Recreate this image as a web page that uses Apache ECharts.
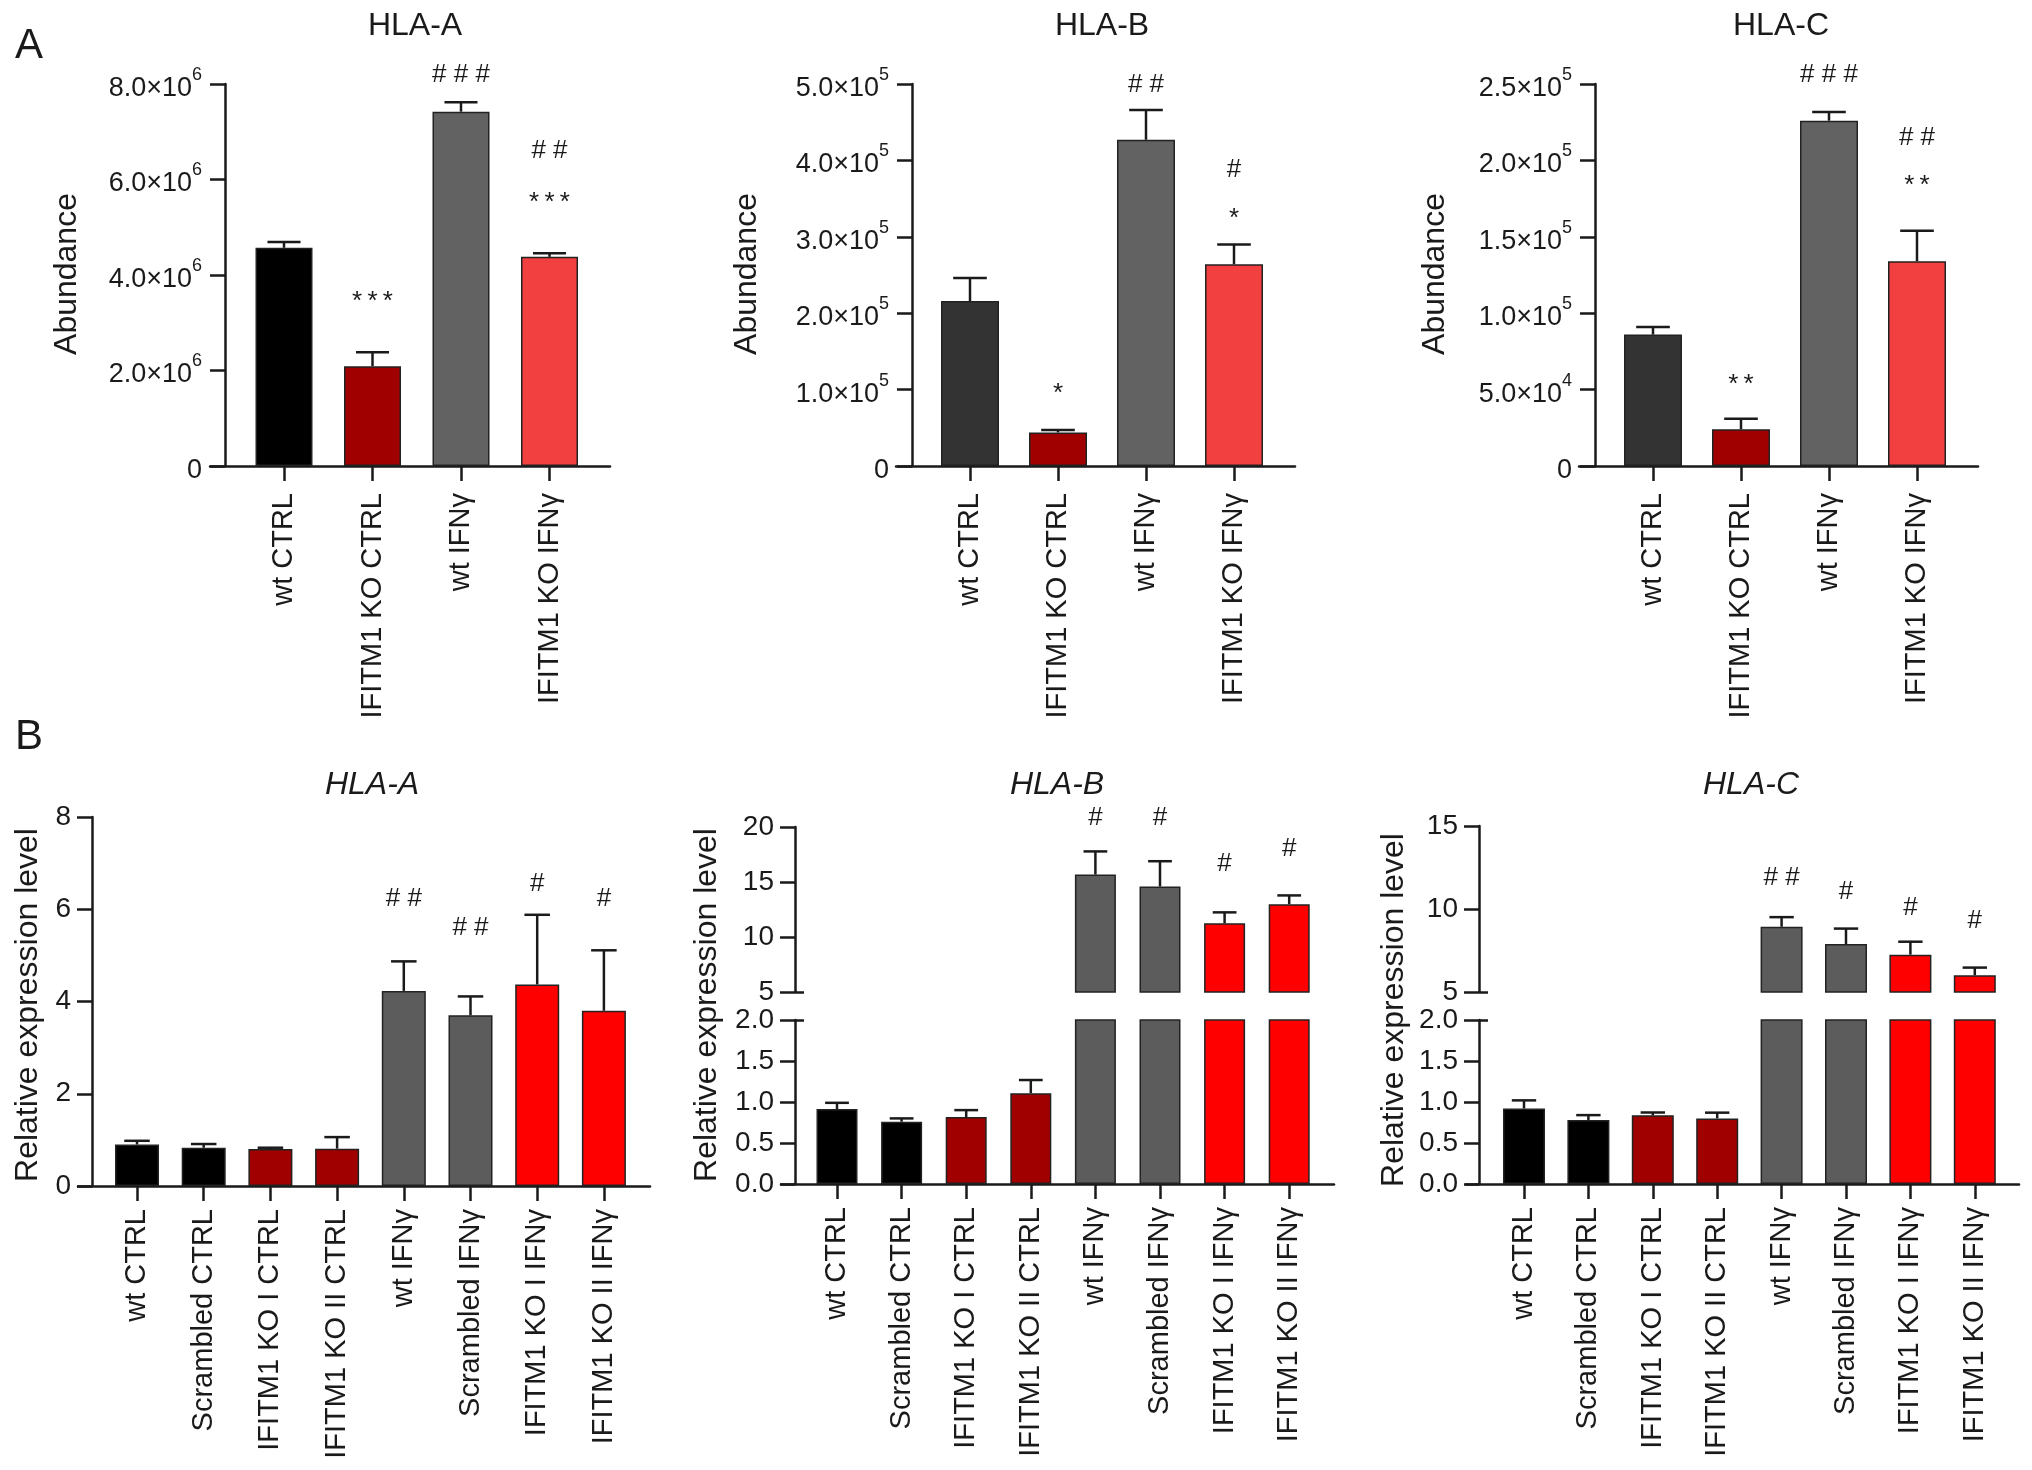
<!DOCTYPE html>
<html><head><meta charset="utf-8">
<script src="https://cdn.jsdelivr.net/npm/echarts@6/dist/echarts.min.js"></script>
<style>html,body{margin:0;padding:0;background:#fff}#c{width:2032px;height:1470px}</style>
</head><body><div id="c"></div>
<script>
// ---------------- DATA ----------------
const catsProt = ['wt CTRL', 'IFITM1 KO CTRL', 'wt IFNγ', 'IFITM1 KO IFNγ'];
const catsMrna = ['wt CTRL', 'Scrambled CTRL', 'IFITM1 KO I CTRL', 'IFITM1 KO II CTRL',
                  'wt IFNγ', 'Scrambled IFNγ', 'IFITM1 KO I IFNγ', 'IFITM1 KO II IFNγ'];

// Panel A: protein abundance (mean, SEM)
const protA_mean = [4.57e6, 2.09e6, 7.42e6, 4.38e6];
const protA_err  = [0.12e6, 0.29e6, 0.20e6, 0.075e6];
const protB_mean = [2.16e5, 0.44e5, 4.27e5, 2.64e5];
const protB_err  = [0.30e5, 0.03e5, 0.39e5, 0.26e5];
const protC_mean = [0.86e5, 0.24e5, 2.26e5, 1.34e5];
const protC_err  = [0.05e5, 0.07e5, 0.057e5, 0.20e5];

// Panel B: relative expression (mean, SEM)
const mrnaA_mean = [0.90, 0.83, 0.80, 0.81, 4.23, 3.70, 4.37, 3.80];
const mrnaA_err  = [0.08, 0.08, 0.03, 0.25, 0.64, 0.41, 1.51, 1.31];
const mrnaB_mean = [0.915, 0.76, 0.816, 1.108, 15.68, 14.59, 11.24, 12.98];
const mrnaB_err  = [0.075, 0.04, 0.085, 0.16, 2.1, 2.3, 1.0, 0.8];
const mrnaC_mean = [0.92, 0.78, 0.837, 0.80, 8.93, 7.89, 7.25, 6.01];
const mrnaC_err  = [0.10, 0.06, 0.035, 0.07, 0.58, 0.93, 0.78, 0.46];

// Y tick values
const protA_ticks = [0, 2e6, 4e6, 6e6, 8e6];
const protB_ticks = [0, 1e5, 2e5, 3e5, 4e5, 5e5];
const protC_ticks = [0, 5e4, 1e5, 1.5e5, 2e5, 2.5e5];
const mrnaA_ticks = [0, 2, 4, 6, 8];
const mrnaLow_ticks = [0, 0.5, 1.0, 1.5, 2.0];
const mrnaB_high_ticks = [5, 10, 15, 20];
const mrnaC_high_ticks = [5, 10, 15];

// Significance marks and the axis value at which each mark is printed
const protA_hash = ['', '', '###', '##'];   const protA_hashY = [null, null, 8.19e6, 6.59e6];
const protA_star = ['', '***', '', '***'];  const protA_starY = [null, 3.56e6, null, 5.64e6];
const protB_hash = ['', '', '##', '#'];     const protB_hashY = [null, null, 4.99e5, 3.88e5];
const protB_star = ['', '*', '', '*'];      const protB_starY = [null, 1.02e5, null, 3.32e5];
const protC_hash = ['', '', '###', '##'];   const protC_hashY = [null, null, 2.56e5, 2.15e5];
const protC_star = ['', '**', '', '**'];    const protC_starY = [null, 0.57e5, null, 1.87e5];
const mrnaA_hash = ['', '', '', '', '##', '##', '#', '#'];
const mrnaA_hashY = [null, null, null, null, 6.22, 5.60, 6.55, 6.22];
const mrnaB_hash = ['', '', '', '', '#', '#', '#', '#'];
const mrnaB_hashY = [null, null, null, null, 20.83, 20.83, 16.69, 18.0];
const mrnaC_hash = ['', '', '', '', '##', '#', '#', '#'];
const mrnaC_hashY = [null, null, null, null, 11.88, 11.01, 10.06, 9.28];

// ---------------- STYLE ----------------
const FONT = '"Liberation Sans", Arial, Helvetica, sans-serif';
const INK = '#1a1a1a';
const LW = 2.5;
const colProtA = ['#000000', '#a10000', '#626262', '#f24040'];
const colProtBC = ['#333333', '#a10000', '#626262', '#f24040'];
const colMrna = ['#000000', '#000000', '#a10000', '#a10000', '#5c5c5c', '#5c5c5c', '#ff0000', '#ff0000'];

const RICH = {
  m: {fontSize: 27, fontFamily: FONT, color: INK, lineHeight: 36, verticalAlign: 'bottom'},
  s: {fontSize: 18, fontFamily: FONT, color: INK, lineHeight: 18, verticalAlign: 'top'}
};
function sciLabel(v) {
  if (v === 0) return '{m|0}';
  const e = Math.floor(Math.log10(v) + 1e-9);
  const m = (v / Math.pow(10, e)).toFixed(1);
  return '{m|' + m + '×10}{s|' + e + '}';
}
const fmtInt = v => '{m|' + Math.round(v) + '}';
const fmt1 = v => '{m|' + v.toFixed(1) + '}';
const RICH_B = {m: {fontSize: 28, fontFamily: FONT, color: INK}};

const option = {backgroundColor: '#ffffff', animation: false, grid: [], xAxis: [], yAxis: [], series: [], graphic: []};

function addPanel(P) {
  const xMin = (P.left - P.c0) / P.pitch, xMax = (P.right - P.c0) / P.pitch;
  const idx = P.cats.map((_, i) => i);
  let lastGi = 0, lastYi = 0;
  P.segs.forEach(S => {
    const gi = option.grid.length;
    option.grid.push({left: P.left, top: S.top, width: P.right - P.left, height: S.bottom - S.top});
    option.xAxis.push({
      gridIndex: gi, type: 'value', min: xMin, max: xMax, show: S.showX, position: 'bottom',
      axisLine: {show: true, onZero: false, lineStyle: {color: INK, width: LW}},
      axisTick: {show: true, customValues: idx, length: 15, lineStyle: {color: INK, width: LW}},
      axisLabel: {show: true, customValues: idx, formatter: v => P.cats[Math.round(v)], rotate: 90,
                  margin: P.xMargin, fontSize: 29, fontFamily: FONT, color: INK},
      splitLine: {show: false}
    });
    const t = S.ticks;
    const yi = option.yAxis.length;
    option.yAxis.push({
      gridIndex: gi, type: 'value', position: 'left', min: t[0], max: t[t.length - 1], interval: t[1] - t[0],
      offset: P.left - P.axisX,
      axisLine: {show: true, onZero: false, lineStyle: {color: INK, width: LW}},
      axisTick: {show: true, length: 15, lineStyle: {color: INK, width: LW}},
      axisLabel: {formatter: S.fmt, margin: P.yMargin, rich: S.rich},
      splitLine: {show: false}
    });
    if (S.breakTick != null) {
      option.yAxis.push({
        gridIndex: gi, type: 'value', position: 'left', min: t[0], max: t[t.length - 1], interval: t[1] - t[0],
        offset: P.left - P.axisX,
        axisLine: {show: false, onZero: false},
        axisTick: {show: true, inside: true, length: 9, customValues: [S.breakTick], lineStyle: {color: INK, width: LW}},
        axisLabel: {show: false}, splitLine: {show: false}
      });
    }
    const lo = t[0], hi = t[t.length - 1];
    option.series.push({
      type: 'bar', xAxisIndex: gi, yAxisIndex: yi, barWidth: P.barW, clip: true, z: 2,
      itemStyle: {borderColor: '#222', borderWidth: 1.5},
      data: P.mean.map((v, i) => ({value: [i, v], itemStyle: {color: P.colors[i]}}))
    });
    option.series.push({
      type: 'custom', xAxisIndex: gi, yAxisIndex: yi, clip: false, z: 3,
      data: P.mean.map((v, i) => [i, v, P.err[i]]),
      renderItem: (params, api) => {
        const x = api.value(0), v = api.value(1), e = api.value(2);
        if (v < lo - 1e-9 || v + e > hi + 1e-9) return null;
        const a = api.coord([x, v]), b = api.coord([x, v + e]);
        const h = P.barW * 0.29;
        return {type: 'group', children: [
          {type: 'line', shape: {x1: a[0], y1: a[1], x2: b[0], y2: b[1]}, style: {stroke: INK, lineWidth: LW}},
          {type: 'line', shape: {x1: b[0] - h, y1: b[1], x2: b[0] + h, y2: b[1]}, style: {stroke: INK, lineWidth: LW}}
        ]};
      }
    });
    lastGi = gi; lastYi = yi;
  });
  P.marks.forEach(M => {
    const items = [];
    M.text.forEach((s, i) => { if (s && M.y[i] != null) items.push([i, M.y[i], i]); });
    const isStar = M.text.some(s => s.indexOf('*') >= 0);
    const fs = 26;
    option.series.push({
      type: 'custom', xAxisIndex: lastGi, yAxisIndex: lastYi, clip: false, z: 4,
      data: items,
      renderItem: (params, api) => {
        const p = api.coord([api.value(0), api.value(1)]);
        const raw = M.text[api.value(2)];
        const txt = raw.split('').join(isStar ? '\u2009' : ' ');
        return {type: 'text', x: p[0], y: p[1] + (isStar ? fs * 0.23 : 0),
          style: {text: txt, fill: INK, fontSize: fs, fontFamily: FONT,
                  textAlign: 'center', align: 'center', textVerticalAlign: 'middle', verticalAlign: 'middle'}};
      }
    });
  });
}

// Row A
const rowA = {top: 84, bottom: 466};
addPanel({cats: catsProt, mean: protA_mean, err: protA_err, colors: colProtA,
  left: 210, right: 610, axisX: 225, c0: 284, pitch: 88.5, barW: 57, xMargin: 27, yMargin: 23,
  segs: [{top: rowA.top, bottom: rowA.bottom, ticks: protA_ticks, fmt: sciLabel, rich: RICH, showX: true}],
  marks: [{text: protA_hash, y: protA_hashY}, {text: protA_star, y: protA_starY}]});
addPanel({cats: catsProt, mean: protB_mean, err: protB_err, colors: colProtBC,
  left: 896, right: 1295, axisX: 912, c0: 970, pitch: 88, barW: 58, xMargin: 27, yMargin: 23,
  segs: [{top: rowA.top, bottom: rowA.bottom, ticks: protB_ticks, fmt: sciLabel, rich: RICH, showX: true}],
  marks: [{text: protB_hash, y: protB_hashY}, {text: protB_star, y: protB_starY}]});
addPanel({cats: catsProt, mean: protC_mean, err: protC_err, colors: colProtBC,
  left: 1579, right: 1978, axisX: 1595, c0: 1653, pitch: 88, barW: 58, xMargin: 27, yMargin: 23,
  segs: [{top: rowA.top, bottom: rowA.bottom, ticks: protC_ticks, fmt: sciLabel, rich: RICH, showX: true}],
  marks: [{text: protC_hash, y: protC_hashY}, {text: protC_star, y: protC_starY}]});

// Row B
addPanel({cats: catsMrna, mean: mrnaA_mean, err: mrnaA_err, colors: colMrna,
  left: 78, right: 650, axisX: 92, c0: 137, pitch: 66.7, barW: 44, xMargin: 23, yMargin: 21,
  segs: [{top: 817, bottom: 1186, ticks: mrnaA_ticks, fmt: fmtInt, rich: RICH_B, showX: true}],
  marks: [{text: mrnaA_hash, y: mrnaA_hashY}]});
addPanel({cats: catsMrna, mean: mrnaB_mean, err: mrnaB_err, colors: colMrna,
  left: 781, right: 1334, axisX: 795, c0: 837, pitch: 64.6, barW: 41, xMargin: 23, yMargin: 21,
  segs: [{top: 1020, bottom: 1184, ticks: mrnaLow_ticks, fmt: fmt1, rich: RICH_B, showX: true, breakTick: 2},
         {top: 827, bottom: 992, ticks: mrnaB_high_ticks, fmt: fmtInt, rich: RICH_B, showX: false, breakTick: 5}],
  marks: [{text: mrnaB_hash, y: mrnaB_hashY}]});
addPanel({cats: catsMrna, mean: mrnaC_mean, err: mrnaC_err, colors: colMrna,
  left: 1466, right: 2019, axisX: 1479, c0: 1524, pitch: 64.4, barW: 42, xMargin: 23, yMargin: 21,
  segs: [{top: 1020, bottom: 1184, ticks: mrnaLow_ticks, fmt: fmt1, rich: RICH_B, showX: true, breakTick: 2},
         {top: 826, bottom: 992, ticks: mrnaC_high_ticks, fmt: fmtInt, rich: RICH_B, showX: false, breakTick: 5}],
  marks: [{text: mrnaC_hash, y: mrnaC_hashY}]});

// Text: panel letters, titles, axis names
function txt(x, y, s, size, extra) {
  option.graphic.push(Object.assign({type: 'text', x: x, y: y, silent: true,
    style: Object.assign({text: s, fill: INK, fontSize: size, fontFamily: FONT,
      textAlign: 'center', align: 'center', textVerticalAlign: 'middle', verticalAlign: 'middle'}, (extra && extra.style) || {})},
    (extra && extra.el) || {}));
}
txt(15, 46, 'A', 42, {style: {textAlign: 'left', align: 'left'}});
txt(15, 737, 'B', 42, {style: {textAlign: 'left', align: 'left'}});
txt(415, 26, 'HLA-A', 32);
txt(1102, 26, 'HLA-B', 32);
txt(1781, 26, 'HLA-C', 32);
txt(372, 785, 'HLA-A', 32, {style: {fontStyle: 'italic'}});
txt(1057, 785, 'HLA-B', 32, {style: {fontStyle: 'italic'}});
txt(1751, 785, 'HLA-C', 32, {style: {fontStyle: 'italic'}});
const rot = {el: {rotation: Math.PI / 2}};
txt(67, 274, 'Abundance', 32, rot);
txt(747, 274, 'Abundance', 32, rot);
txt(1435, 274, 'Abundance', 32, rot);
txt(28, 1005, 'Relative expression level', 32, rot);
txt(707, 1005, 'Relative expression level', 32, rot);
txt(1394, 1010, 'Relative expression level', 32, rot);

const chart = echarts.init(document.getElementById('c'), null, {renderer: 'canvas', width: 2032, height: 1470});
chart.setOption(option);
</script>
</body></html>
